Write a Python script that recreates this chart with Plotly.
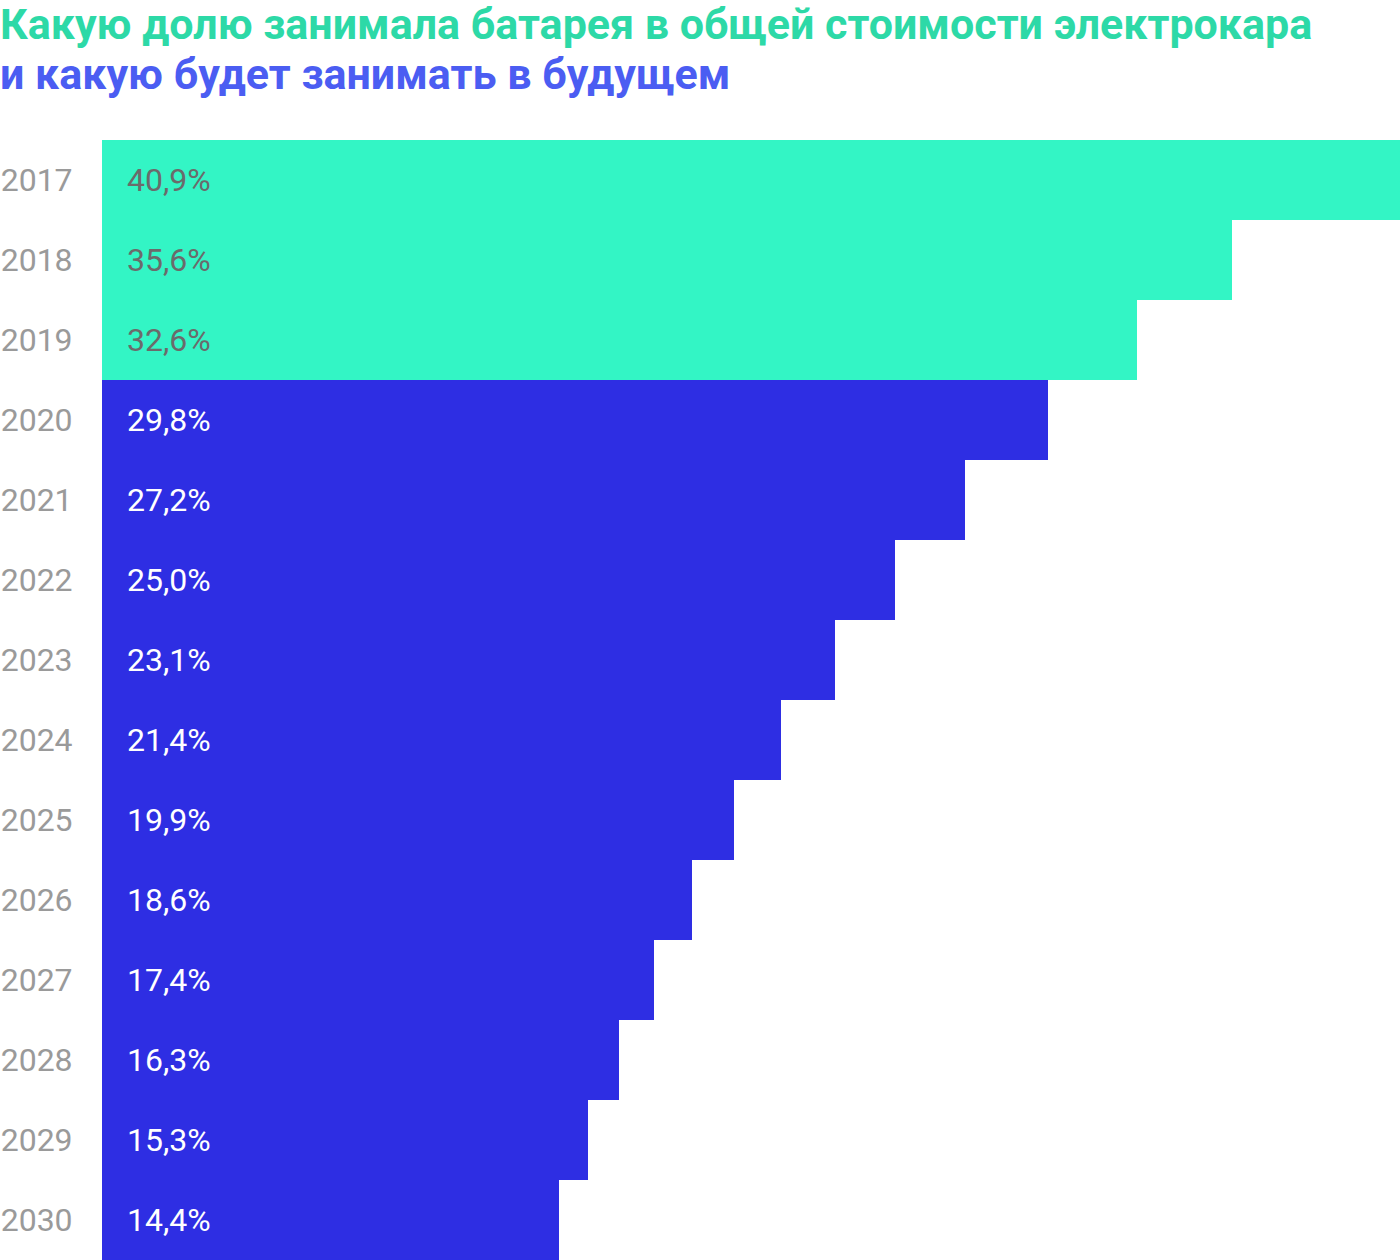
import plotly.graph_objects as go

years = ["2017", "2018", "2019", "2020", "2021", "2022", "2023", "2024",
         "2025", "2026", "2027", "2028", "2029", "2030"]
shares = [40.9, 35.6, 32.6, 29.8, 27.2, 25.0, 23.1, 21.4, 19.9, 18.6, 17.4, 16.3, 15.3, 14.4]
is_actual = [True, True, True, False, False, False, False, False, False, False, False, False, False, False]
title_lines = ["Какую долю занимала батарея в общей стоимости электрокара",
               "и какую будет занимать в будущем"]

GREEN = "#33F5C5"
BLUE = "#2E2EE3"
bar_colors = [GREEN if a else BLUE for a in is_actual]
text_colors = ["#6b6b6b" if a else "#ffffff" for a in is_actual]
labels = [f"{v:.1f}".replace(".", ",") + "%" for v in shares]
pos = list(range(len(years)))

fig = go.Figure(go.Bar(
    x=shares, y=pos, orientation="h", width=1.0,
    marker=dict(color=bar_colors, line=dict(width=0)),
    hoverinfo="skip",
))

for p, lab, c in zip(pos, labels, text_colors):
    fig.add_annotation(x=0, y=p, xref="x", yref="y", text=lab, showarrow=False,
                       xanchor="left", yanchor="middle", xshift=23,
                       font=dict(family="Roboto", size=32, color=c))

# title lines (paper coords above the plot area)
for txt, py, col in zip(title_lines, [1.1036, 1.0589], ["#2DD9A7", "#4B5DF2"]):
    fig.add_annotation(x=-102 / 1298, y=py, xref="paper", yref="paper",
                       text=f"<b>{txt}</b>", showarrow=False,
                       xanchor="left", yanchor="middle", xshift=-2,
                       font=dict(family="Roboto", size=43, color=col))

fig.update_layout(
    width=1400, height=1260,
    margin=dict(l=102, r=0, t=140, b=0, autoexpand=False),
    paper_bgcolor="white", plot_bgcolor="white",
    bargap=0, showlegend=False,
    font=dict(family="Roboto"),
    xaxis=dict(range=[0, 40.9], visible=False, fixedrange=True),
    yaxis=dict(range=[len(years) - 0.5, -0.5], tickmode="array",
               tickvals=pos, ticktext=years, automargin=False,
               showgrid=False, zeroline=False, showline=False,
               ticks="outside", ticklen=22, tickcolor="rgba(0,0,0,0)",
               tickfont=dict(family="Roboto", size=32, color="#9a9a9a"),
               fixedrange=True),
)

fig.write_html("out.html")
